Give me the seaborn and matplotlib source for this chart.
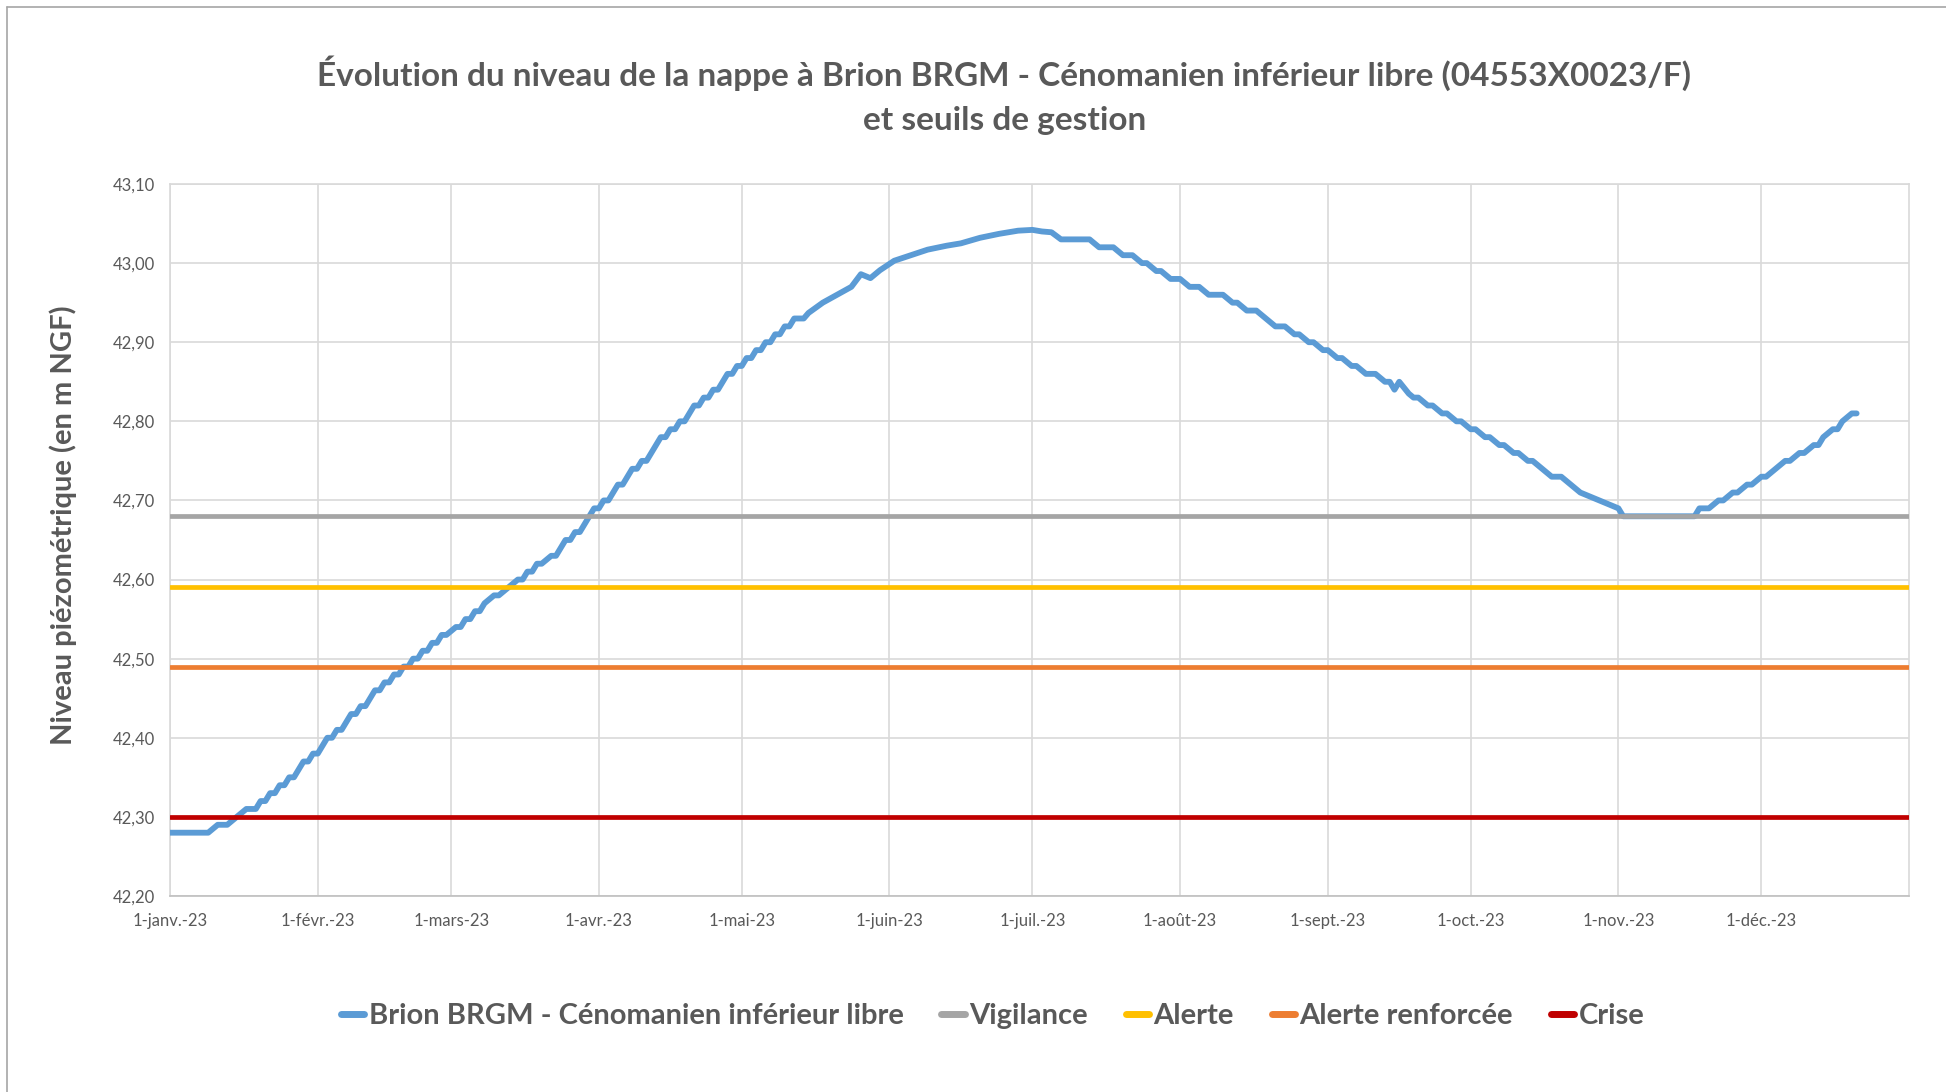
import pandas as pd
import seaborn as sns
import matplotlib.pyplot as plt
from matplotlib.lines import Line2D


# Data - days counted from 1 Jan 2023
rise_days = [0, 8, 10, 12, 14, 16, 18, 19, 20, 21, 22, 23, 24, 25, 26, 27, 28, 29, 30, 31,
             32, 33, 34, 35, 36, 37, 38, 39, 40, 41, 42, 43, 44, 45, 46, 47, 48, 49, 50, 51,
             52, 53, 54, 55, 56, 57, 58, 60, 61, 62, 63, 64, 65, 66, 68, 69, 71, 73, 74, 75,
             76, 77, 78, 79, 80, 81, 82, 83, 84, 85, 86, 87, 88, 89, 90, 91, 92, 93, 94, 95,
             96, 97, 98, 99, 100, 101, 102, 103, 104, 105, 106, 107, 108, 109, 110, 111, 112,
             113, 114, 115, 116, 117, 118, 119, 120, 121, 122, 123, 124, 125, 126, 127, 128,
             129, 130, 131, 133]
rise_levels = [42.28, 42.28, 42.29, 42.29, 42.30, 42.31, 42.31, 42.32, 42.32, 42.33, 42.33,
               42.34, 42.34, 42.35, 42.35, 42.36, 42.37, 42.37, 42.38, 42.38, 42.39, 42.40,
               42.40, 42.41, 42.41, 42.42, 42.43, 42.43, 42.44, 42.44, 42.45, 42.46, 42.46,
               42.47, 42.47, 42.48, 42.48, 42.49, 42.49, 42.50, 42.50, 42.51, 42.51, 42.52,
               42.52, 42.53, 42.53, 42.54, 42.54, 42.55, 42.55, 42.56, 42.56, 42.57, 42.58,
               42.58, 42.59, 42.60, 42.60, 42.61, 42.61, 42.62, 42.62, 42.625, 42.63, 42.63,
               42.64, 42.65, 42.65, 42.66, 42.66, 42.67, 42.68, 42.69, 42.69, 42.70, 42.70,
               42.71, 42.72, 42.72, 42.73, 42.74, 42.74, 42.75, 42.75, 42.76, 42.77, 42.78,
               42.78, 42.79, 42.79, 42.80, 42.80, 42.81, 42.82, 42.82, 42.83, 42.83, 42.84,
               42.84, 42.85, 42.86, 42.86, 42.87, 42.87, 42.88, 42.88, 42.89, 42.89, 42.90,
               42.90, 42.91, 42.91, 42.92, 42.92, 42.93, 42.93]

summer_days = [134, 137, 140, 143, 145, 147, 149, 152, 155, 159, 163, 166, 170, 174, 178, 181,
               183, 185, 187, 193, 195, 198, 200, 202, 204, 205, 207, 208]
summer_levels = [42.937, 42.95, 42.96, 42.97, 42.986, 42.981, 42.991, 43.003, 43.009, 43.017,
                 43.022, 43.025, 43.032, 43.037, 43.041, 43.042, 43.040, 43.039, 43.03, 43.03,
                 43.02, 43.02, 43.01, 43.01, 43.00, 43.00, 42.99, 42.99]

fall_days = [210, 212, 214, 216, 218, 221, 223, 224, 226, 228, 230, 232, 234, 236, 237, 239,
             240, 242, 243, 245, 246, 248, 249, 251, 253, 255, 256, 257, 258, 260, 261, 262,
             264, 265, 267, 268, 270, 271, 273, 274, 276, 277, 279, 280, 282, 283, 285, 286,
             288, 290, 292, 294, 296, 304, 305, 320]
fall_levels = [42.98, 42.98, 42.97, 42.97, 42.96, 42.96, 42.95, 42.95, 42.94, 42.94, 42.93,
               42.92, 42.92, 42.91, 42.91, 42.90, 42.90, 42.89, 42.89, 42.88, 42.88, 42.87,
               42.87, 42.86, 42.86, 42.85, 42.85, 42.84, 42.85, 42.835, 42.83, 42.83, 42.82,
               42.82, 42.81, 42.81, 42.80, 42.80, 42.79, 42.79, 42.78, 42.78, 42.77, 42.77,
               42.76, 42.76, 42.75, 42.75, 42.74, 42.73, 42.73, 42.72, 42.71, 42.69, 42.68,
               42.68]

winter_days = [321, 323, 325, 326, 328, 329, 331, 332, 334, 335, 337, 339, 340, 342, 343, 345,
               346, 347, 349, 350, 351, 353, 354]
winter_levels = [42.69, 42.69, 42.70, 42.70, 42.71, 42.71, 42.72, 42.72, 42.73, 42.73, 42.74,
                 42.75, 42.75, 42.76, 42.76, 42.77, 42.77, 42.78, 42.79, 42.79, 42.80, 42.81,
                 42.81]

threshold_names = ["Vigilance", "Alerte", "Alerte renforcée", "Crise"]
threshold_values = [42.68, 42.59, 42.49, 42.30]
threshold_colors = ["#A5A5A5", "#FFC000", "#ED7D31", "#C00000"]

month_labels = ["1-janv.-23", "1-févr.-23", "1-mars-23", "1-avr.-23", "1-mai-23", "1-juin-23",
                "1-juil.-23", "1-août-23", "1-sept.-23", "1-oct.-23", "1-nov.-23", "1-déc.-23"]

series_name = "Brion BRGM - Cénomanien inférieur libre"


# build dataframe
start = pd.Timestamp("2023-01-01")
days = rise_days + summer_days + fall_days + winter_days
levels = rise_levels + summer_levels + fall_levels + winter_levels
df = pd.DataFrame({"date": start + pd.to_timedelta(days, unit="D"), "niveau": levels})


sns.set_theme(style="white")
plt.rcParams["font.family"] = ["Lato", "DejaVu Sans"]

fig = plt.figure(figsize=(19.46, 10.92), dpi=100)
ax = fig.add_axes([0.0874, 0.1795, 0.8936, 0.652])

sns.lineplot(data=df, x="date", y="niveau", ax=ax, color="#5B9BD5", linewidth=4.2,
             label=series_name, zorder=3)

for name, val, col in zip(threshold_names, threshold_values, threshold_colors):
    ax.axhline(val, color=col, linewidth=3.4, label=name, zorder=4)

# axes
ax.set_xlim(start, pd.Timestamp("2024-01-01"))
ax.set_ylim(42.20, 43.10)
ticks_y = [42.20 + 0.1 * i for i in range(10)]
ax.set_yticks(ticks_y)
ax.set_yticklabels([f"{t:.2f}".replace(".", ",") for t in ticks_y])
month_starts = pd.date_range("2023-01-01", periods=12, freq="MS")
ax.set_xticks(month_starts)
ax.set_xticklabels(month_labels)
ax.tick_params(axis="both", length=0, labelsize=12, labelcolor="#595959")
ax.tick_params(axis="y", pad=11)
ax.tick_params(axis="x", pad=12)
ax.grid(True, color="#D9D9D9", linewidth=1.2)
ax.set_axisbelow(True)
for s in ax.spines.values():
    s.set_color("#D9D9D9")
    s.set_linewidth(1.2)
ax.spines["bottom"].set_color("#BFBFBF")
ax.set_xlabel("")
ax.set_ylabel("")

fig.text(0.0325, 0.519, "Niveau piézométrique (en m NGF)", rotation=90, ha="center", va="center",
         fontsize=21, fontweight="bold", color="#595959")

fig.text(0.516, 0.9125,
         "Évolution du niveau de la nappe à Brion BRGM - Cénomanien inférieur libre (04553X0023/F)\n"
         "et seuils de gestion",
         ha="center", va="center", fontsize=24, fontweight="bold", color="#595959", linespacing=1.62)

leg = ax.legend(loc="center", bbox_to_anchor=(0.51, 0.0696), bbox_transform=fig.transFigure,
                ncol=5, frameon=False, handlelength=0.8, handletextpad=0.15, columnspacing=1.3,
                prop={"size": 21, "weight": "bold"})
for t in leg.get_texts():
    t.set_color("#595959")
for h in leg.get_lines():
    h.set_linewidth(5)
    h.set_solid_capstyle("round")

# chart border (top and left edges)
fig.add_artist(Line2D([0.0036, 1.0], [0.9936, 0.9936], color="#A6A6A6", linewidth=1.2))
fig.add_artist(Line2D([0.0036, 0.0036], [0.0, 0.9936], color="#A6A6A6", linewidth=1.2))

fig.savefig("out.png", dpi=100, facecolor="white")
